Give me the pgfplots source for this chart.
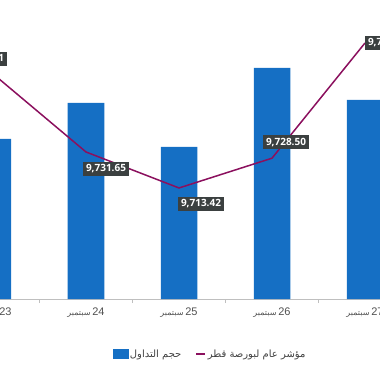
\documentclass[border=0pt]{standalone}
\usepackage{pgfplots}
\pgfplotsset{compat=1.18}
\usepackage{fontspec}
\setmainfont{Liberation Sans}
\newfontfamily\arabicfont[Script=Arabic]{DejaVu Sans}
\newfontfamily\lblfont{Open Sans}
\TeXXeTstate=1
\definecolor{barblue}{RGB}{21,111,196}
\definecolor{linecol}{RGB}{139,16,94}
\definecolor{boxgray}{RGB}{59,64,64}
\definecolor{axgray}{RGB}{191,191,191}
\definecolor{txtgray}{RGB}{80,80,80}
\definecolor{leggray}{RGB}{64,64,64}
\newcommand{\sep}[1]{{\arabicfont\fontsize{8}{8}\selectfont\beginR سبتمبر\endR}\,#1}
\tikzset{lbl/.style={fill=boxgray, text=white, font=\lblfont\bfseries\fontsize{10}{11}\selectfont, inner xsep=3pt, inner ysep=3pt, anchor=center}}
\begin{document}
\begin{tikzpicture}
\clip (0,-73pt) rectangle (380pt,299pt);
\begin{axis}[at={(-53.5pt,0)}, anchor=south west, width=465pt, height=299pt, scale only axis,
  xmin=-0.5, xmax=4.5, ymin=0, ymax=299,
  axis x line*=bottom, axis y line=none, axis line style={axgray},
  xtick={0,1,2,3,4}, xticklabels={\sep{23},\sep{24},\sep{25},\sep{26},\sep{27}},
  major x tick style={draw=none}, minor xtick={0.5,1.5,2.5,3.5},
  minor x tick style={axgray}, minor tick length=4pt, tick align=outside,
  xticklabel style={text=txtgray, font=\fontsize{11}{11}\selectfont, yshift=-1.5pt}]
\addplot[ybar, bar width=36.5pt, fill=barblue, draw=none] coordinates {(0,160) (1,196) (2,152) (3,231) (4,199)};
\end{axis}
\begin{axis}[at={(-53.5pt,0)}, anchor=south west, width=465pt, height=299pt, scale only axis,
  xmin=-0.5, xmax=4.5, ymin=9657.2, ymax=9808.6, hide axis,
  legend style={at={(axis description cs:0.5667,-0.184)}, anchor=center, draw=none, fill=none,
    legend columns=2, font=\fontsize{10}{11}\selectfont, text=leggray,
    /tikz/every even column/.append style={column sep=12pt}}]
\addlegendimage{legend image code/.code={\fill[barblue] (0pt,-4.5pt) rectangle (15pt,4.5pt);}}
\addlegendentry{\arabicfont\beginR حجم التداول\endR}
\addplot[linecol, line width=1.5pt, legend image code/.code={\draw[linecol, line width=1.5pt] (0pt,0pt) -- (9pt,0pt);}] coordinates {(0,9771.21) (1,9731.65) (2,9713.42) (3,9728.50) (4,9786.84)};
\addlegendentry{\arabicfont\beginR مؤشر عام لبورصة قطر\endR}
\addplot[forget plot, draw=none, nodes near coords, point meta=explicit symbolic, nodes near coords style={lbl, xshift=-9pt, yshift=15pt}] coordinates {(0,9771.21) [9,771.21]};
\addplot[forget plot, draw=none, nodes near coords, point meta=explicit symbolic, nodes near coords style={lbl, xshift=20pt, yshift=-17pt}] coordinates {(1,9731.65) [9,731.65]};
\addplot[forget plot, draw=none, nodes near coords, point meta=explicit symbolic, nodes near coords style={lbl, xshift=22pt, yshift=-16pt}] coordinates {(2,9713.42) [9,713.42]};
\addplot[forget plot, draw=none, nodes near coords, point meta=explicit symbolic, nodes near coords style={lbl, xshift=14pt, yshift=16pt}] coordinates {(3,9728.50) [9,728.50]};
\addplot[forget plot, draw=none, nodes near coords, point meta=explicit symbolic, nodes near coords style={lbl, xshift=23pt, yshift=0pt}] coordinates {(4,9786.84) [9,786.84]};
\end{axis}
\end{tikzpicture}
\end{document}
